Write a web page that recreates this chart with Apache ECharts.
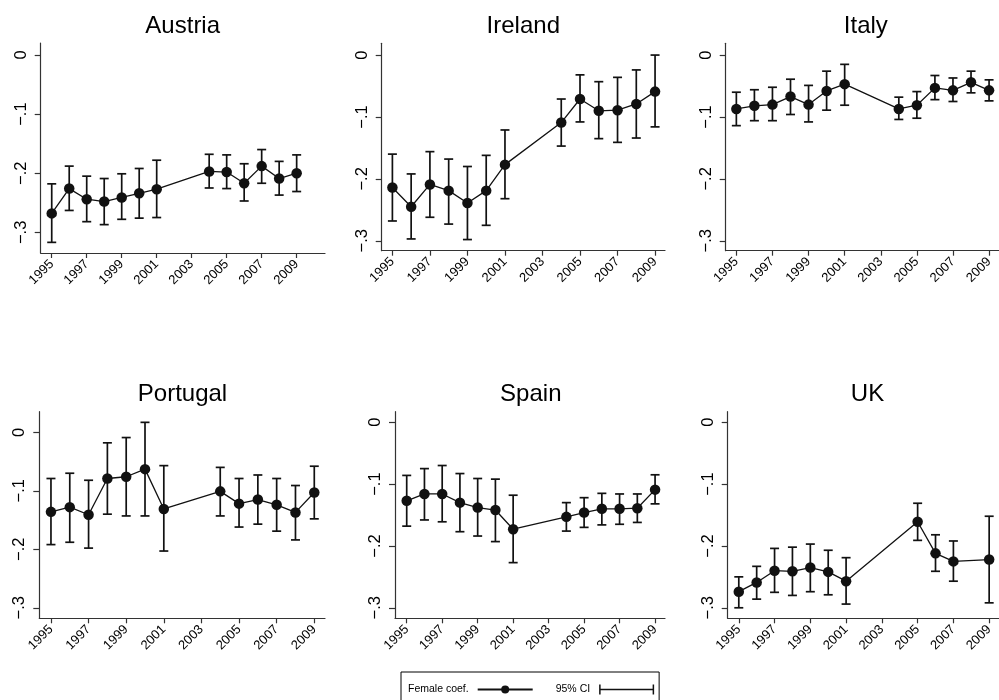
<!DOCTYPE html>
<html>
<head>
<meta charset="utf-8">
<script src="https://cdn.jsdelivr.net/npm/echarts@6/dist/echarts.min.js"></script>
<style>
html,body{margin:0;padding:0;background:#fff;}
#chart{width:999px;height:700px;}
</style>
</head>
<body>
<div id="chart"></div>
<script>
// ---------- data ----------
const countries = ['Austria', 'Ireland', 'Italy', 'Portugal', 'Spain', 'UK'];

const austriaYears = [1995, 1996, 1997, 1998, 1999, 2000, 2001, 2004, 2005, 2006, 2007, 2008, 2009];
const austriaCoef  = [-0.268, -0.226, -0.244, -0.248, -0.241, -0.234, -0.227, -0.197, -0.198, -0.217, -0.188, -0.209, -0.200];
const austriaLo    = [-0.317, -0.263, -0.282, -0.287, -0.278, -0.276, -0.275, -0.225, -0.226, -0.247, -0.217, -0.237, -0.231];
const austriaHi    = [-0.218, -0.188, -0.205, -0.209, -0.201, -0.192, -0.178, -0.168, -0.169, -0.184, -0.160, -0.180, -0.169];

const irelandYears = [1995, 1996, 1997, 1998, 1999, 2000, 2001, 2004, 2005, 2006, 2007, 2008, 2009];
const irelandCoef  = [-0.214, -0.245, -0.209, -0.219, -0.239, -0.219, -0.177, -0.109, -0.071, -0.090, -0.089, -0.079, -0.059];
const irelandLo    = [-0.268, -0.297, -0.262, -0.273, -0.298, -0.275, -0.232, -0.147, -0.108, -0.135, -0.141, -0.134, -0.116];
const irelandHi    = [-0.160, -0.192, -0.156, -0.168, -0.180, -0.162, -0.121, -0.071, -0.032, -0.043, -0.036, -0.024, 0.000];

const italyYears = [1995, 1996, 1997, 1998, 1999, 2000, 2001, 2004, 2005, 2006, 2007, 2008, 2009];
const italyCoef  = [-0.087, -0.082, -0.080, -0.067, -0.080, -0.058, -0.047, -0.087, -0.081, -0.053, -0.057, -0.044, -0.057];
const italyLo    = [-0.114, -0.106, -0.106, -0.096, -0.108, -0.089, -0.081, -0.104, -0.102, -0.072, -0.075, -0.061, -0.074];
const italyHi    = [-0.060, -0.056, -0.052, -0.039, -0.049, -0.026, -0.015, -0.068, -0.059, -0.033, -0.037, -0.026, -0.040];

const portugalYears = [1995, 1996, 1997, 1998, 1999, 2000, 2001, 2004, 2005, 2006, 2007, 2008, 2009];
const portugalCoef  = [-0.136, -0.128, -0.141, -0.079, -0.076, -0.063, -0.131, -0.101, -0.122, -0.115, -0.124, -0.137, -0.103];
const portugalLo    = [-0.192, -0.188, -0.198, -0.140, -0.143, -0.143, -0.203, -0.143, -0.162, -0.157, -0.169, -0.184, -0.148];
const portugalHi    = [-0.079, -0.070, -0.082, -0.018, -0.009, 0.017, -0.057, -0.060, -0.079, -0.073, -0.079, -0.091, -0.058];

const spainYears = [1995, 1996, 1997, 1998, 1999, 2000, 2001, 2004, 2005, 2006, 2007, 2008, 2009];
const spainCoef  = [-0.127, -0.116, -0.116, -0.130, -0.138, -0.142, -0.173, -0.153, -0.146, -0.140, -0.140, -0.139, -0.109];
const spainLo    = [-0.168, -0.158, -0.161, -0.177, -0.184, -0.193, -0.227, -0.176, -0.170, -0.166, -0.165, -0.162, -0.132];
const spainHi    = [-0.086, -0.075, -0.070, -0.083, -0.091, -0.092, -0.118, -0.130, -0.122, -0.115, -0.116, -0.116, -0.085];

const ukYears = [1995, 1996, 1997, 1998, 1999, 2000, 2001, 2005, 2006, 2007, 2009];
const ukCoef  = [-0.274, -0.259, -0.240, -0.241, -0.235, -0.242, -0.257, -0.161, -0.212, -0.225, -0.222];
const ukLo    = [-0.300, -0.286, -0.275, -0.280, -0.274, -0.279, -0.294, -0.191, -0.241, -0.257, -0.292];
const ukHi    = [-0.250, -0.233, -0.204, -0.202, -0.197, -0.207, -0.219, -0.131, -0.182, -0.192, -0.152];

const xTickValues = [1995, 1997, 1999, 2001, 2003, 2005, 2007, 2009];
const yTickValues = [-0.3, -0.2, -0.1, 0];
const yTickLabels = ['\u2212.3', '\u2212.2', '\u2212.1', '0'];

const seriesNames = ['Female coef.', '95% CI'];

// ---------- layout ----------
const FONT = '"Liberation Sans", Arial, sans-serif';
const panels = [
  {c: austriaYears,  coef: austriaCoef,  lo: austriaLo,  hi: austriaHi,
   grid: {left: 40.7, top: 43, width: 284.3, height: 210}, x: [1994.37, 2010.62], y: [-0.335, 0.0203], title: [182.7, 26]},
  {c: irelandYears,  coef: irelandCoef,  lo: irelandLo,  hi: irelandHi,
   grid: {left: 381.7, top: 43.3, width: 283.3, height: 207.4}, x: [1994.43, 2009.53], y: [-0.316, 0.019], title: [523.3, 26]},
  {c: italyYears,    coef: italyCoef,    lo: italyLo,    hi: italyHi,
   grid: {left: 725.7, top: 43.3, width: 280.2, height: 207.4}, x: [1994.41, 2009.55], y: [-0.316, 0.019], title: [865.8, 26]},
  {c: portugalYears, coef: portugalCoef, lo: portugalLo, hi: portugalHi,
   grid: {left: 39.3, top: 411.7, width: 285.7, height: 206.6}, x: [1994.38, 2009.57], y: [-0.318, 0.0352], title: [182.5, 394.5]},
  {c: spainYears,    coef: spainCoef,    lo: spainLo,    hi: spainHi,
   grid: {left: 395, top: 411.7, width: 270, height: 206.6}, x: [1994.34, 2009.56], y: [-0.317, 0.017], title: [530.8, 394.5]},
  {c: ukYears,       coef: ukCoef,       lo: ukLo,       hi: ukHi,
   grid: {left: 727.7, top: 411.7, width: 278.1, height: 206.6}, x: [1994.38, 2009.55], y: [-0.317, 0.017], title: [867.5, 394.5]}
];

const INK = '#111';
const AXIS = '#333';

function renderCI(params, api) {
  const x = api.value(0);
  const pLo = api.coord([x, api.value(1)]);
  const pHi = api.coord([x, api.value(2)]);
  const w = 4.5;
  const st = {stroke: INK, lineWidth: 1.7};
  return {
    type: 'group',
    children: [
      {type: 'line', shape: {x1: pLo[0], y1: pLo[1], x2: pHi[0], y2: pHi[1]}, style: st},
      {type: 'line', shape: {x1: pLo[0] - w, y1: pLo[1], x2: pLo[0] + w, y2: pLo[1]}, style: st},
      {type: 'line', shape: {x1: pHi[0] - w, y1: pHi[1], x2: pHi[0] + w, y2: pHi[1]}, style: st}
    ]
  };
}

const grids = [], xAxes = [], yAxes = [], series = [], titles = [];
panels.forEach((p, i) => {
  grids.push(Object.assign({containLabel: false}, p.grid));
  titles.push({
    text: countries[i], left: p.title[0], top: p.title[1], padding: 0,
    textAlign: 'center', textVerticalAlign: 'middle',
    textStyle: {fontFamily: FONT, fontSize: 24, fontWeight: 'normal', color: '#000'}
  });
  xAxes.push({
    type: 'value', gridIndex: i, min: p.x[0], max: p.x[1],
    axisLine: {show: true, onZero: false, lineStyle: {color: AXIS, width: 1.2}},
    axisTick: {show: true, length: 5, customValues: xTickValues, lineStyle: {color: AXIS, width: 1.2}},
    axisLabel: {customValues: xTickValues, rotate: 45, margin: 9, fontSize: 13, fontFamily: FONT, color: '#000',
                formatter: v => String(v)},
    splitLine: {show: false}
  });
  yAxes.push({
    type: 'value', gridIndex: i, min: p.y[0], max: p.y[1],
    axisLine: {show: true, onZero: false, lineStyle: {color: AXIS, width: 1.2}},
    axisTick: {show: true, length: 6, customValues: yTickValues, lineStyle: {color: AXIS, width: 1.2}},
    axisLabel: {customValues: yTickValues, rotate: 90, margin: 11, fontSize: 16.5, fontFamily: FONT, color: '#000',
                formatter: v => yTickLabels[yTickValues.findIndex(t => Math.abs(t - v) < 1e-9)]},
    splitLine: {show: false}
  });
  series.push({
    name: seriesNames[1], type: 'custom', xAxisIndex: i, yAxisIndex: i,
    renderItem: renderCI, itemStyle: {color: INK},
    encode: {x: 0, y: [1, 2]},
    data: p.c.map((yr, k) => [yr, p.lo[k], p.hi[k]]),
    clip: false, z: 2
  });
  series.push({
    name: seriesNames[0], type: 'line', xAxisIndex: i, yAxisIndex: i,
    data: p.c.map((yr, k) => [yr, p.coef[k]]),
    symbol: 'circle', symbolSize: 10.5, showSymbol: true,
    lineStyle: {color: INK, width: 1.3}, itemStyle: {color: INK},
    clip: false, z: 3
  });
});

const chart = echarts.init(document.getElementById('chart'), null, {renderer: 'canvas'});
chart.setOption({
  backgroundColor: '#fff',
  animation: false,
  title: titles,
  grid: grids,
  xAxis: xAxes,
  yAxis: yAxes,
  legend: {
    left: 401, top: 672, orient: 'horizontal', align: 'right',
    itemWidth: 55, itemHeight: 10, itemGap: 22,
    padding: [12, 5, 12, 7],
    borderColor: '#000', borderWidth: 1, borderRadius: 0,
    selectedMode: false,
    textStyle: {fontFamily: FONT, fontSize: 10.5, color: '#000', padding: [0, 4, 0, 0]},
    data: [
      {name: seriesNames[0]},
      {name: seriesNames[1], icon: 'path://M0,0h1.5v4.3h52v-4.3h1.5v10h-1.5v-4.3h-52v4.3h-1.5z', itemStyle: {color: INK}}
    ]
  },
  series: series
});
</script>
</body>
</html>
